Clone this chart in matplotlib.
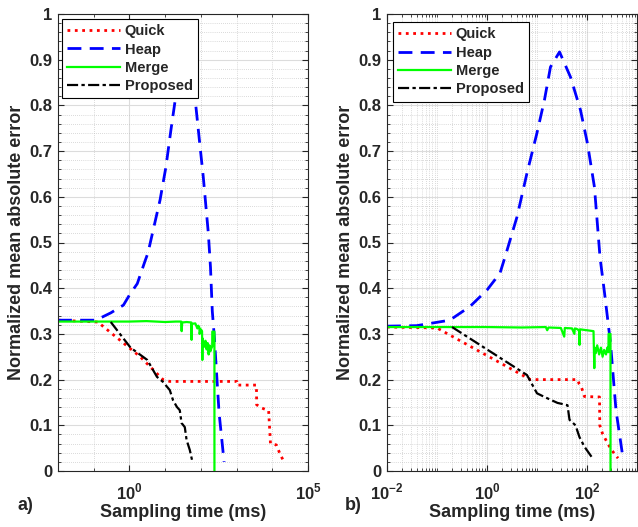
import numpy as np
import matplotlib
matplotlib.use("Agg")
import matplotlib.pyplot as plt
from matplotlib.ticker import FixedLocator, NullFormatter, LogLocator

plt.rcParams['font.family'] = ['Liberation Sans', 'DejaVu Sans']
plt.rcParams['font.weight'] = 'bold'
plt.rcParams['mathtext.fontset'] = 'custom'
plt.rcParams['mathtext.rm'] = 'Liberation Sans:bold'
plt.rcParams['mathtext.bf'] = 'Liberation Sans:bold'

# ---- panel a) data (sampling time in ms, normalized MAE) ----
quick_a_t = [0.01, 0.13, 2.0, 8.7, 13.5, 1020, 1030, 3600, 3650, 5000, 7900, 8900,
             13000, 15000, 17000, 22000]
quick_a_y = [0.33, 0.326, 0.25, 0.2, 0.196, 0.196, 0.188, 0.188, 0.145, 0.138,
             0.132, 0.06, 0.057, 0.045, 0.035, 0.018]

heap_a_t = [0.01, 0.115, 0.30, 0.68, 1.0, 1.66, 2.75, 3.3, 7.2, 10.5, 14.5, 18.6,
            26, 35.5, 50, 71, 91, 117, 162, 186, 209, 240, 288, 324, 447]
heap_a_y = [0.33, 0.33, 0.346, 0.363, 0.385, 0.41, 0.46, 0.477, 0.593, 0.665,
            0.746, 0.805, 0.88, 0.905, 0.88, 0.805, 0.724, 0.643, 0.52, 0.446,
            0.35, 0.29, 0.19, 0.127, 0.02]

merge_a_t = [0.01, 1, 3, 10, 20, 28, 29, 30, 40, 54, 55, 56, 70, 80, 85, 91, 92,
             100, 108, 110, 112, 125, 135, 145, 155, 165, 175, 185, 200, 208, 209,
             238, 240, 240]
merge_a_y = [0.327, 0.327, 0.328, 0.326, 0.327, 0.327, 0.306, 0.325, 0.326,
             0.325, 0.287, 0.322, 0.323, 0.312, 0.318, 0.314, 0.3, 0.31, 0.306,
             0.243, 0.29, 0.272, 0.285, 0.266, 0.28, 0.255, 0.275, 0.262, 0.27,
             0.272, 0.305, 0.305, 0.305, 0.0]

prop_a_t = [0.30, 1.07, 3.16, 5.9, 8.7, 13.5, 16.6, 21.4, 25.7, 28.8, 35.5, 39.8,
            49, 58.9]
prop_a_y = [0.326, 0.27, 0.243, 0.206, 0.195, 0.177, 0.155, 0.14, 0.133, 0.105,
            0.096, 0.068, 0.046, 0.018]

# ---- panel b) data ----
quick_b_t = [0.01, 0.1, 7.4, 65, 70, 78, 85, 89, 178, 180, 204, 260, 310, 417]
quick_b_y = [0.315, 0.313, 0.2, 0.2, 0.19, 0.182, 0.17, 0.163, 0.162, 0.1,
             0.082, 0.06, 0.046, 0.028]

heap_b_t = [0.01, 0.039, 0.18, 0.457, 1.0, 1.82, 2.29, 3.98, 6.31, 10, 14.1, 18.6,
            28.2, 46.8, 74, 102, 141, 182, 224, 295, 380, 525]
heap_b_y = [0.317, 0.318, 0.33, 0.36, 0.396, 0.433, 0.468, 0.556, 0.652, 0.74,
            0.812, 0.884, 0.917, 0.862, 0.79, 0.717, 0.621, 0.468, 0.39, 0.28,
            0.133, 0.028]

merge_b_t = [0.01, 1, 5, 15, 16, 17, 30, 35, 36, 50, 56, 57, 65, 70, 71, 72, 100,
             135, 140, 142, 150, 160, 175, 190, 205, 220, 240, 255, 268, 270,
             293, 295, 295]
merge_b_y = [0.315, 0.315, 0.314, 0.315, 0.308, 0.314, 0.313, 0.294, 0.313,
             0.312, 0.3, 0.312, 0.31, 0.306, 0.276, 0.31, 0.308, 0.306, 0.225,
             0.27, 0.258, 0.275, 0.255, 0.27, 0.25, 0.265, 0.255, 0.27, 0.26,
             0.3, 0.3, 0.3, 0.0]

prop_b_t = [0.2, 6.3, 10, 14.1, 25.7, 40.7, 44.7, 58.9, 70.8, 89.1, 129]
prop_b_y = [0.315, 0.21, 0.17, 0.162, 0.149, 0.144, 0.112, 0.1, 0.074, 0.053,
            0.028]

labels = ["Quick", "Heap", "Merge", "Proposed"]

fig = plt.figure(figsize=(6.38, 5.27), dpi=100)
ax_a = fig.add_axes([58 / 638, 1 - 471 / 527, 250 / 638, 457 / 527])
ax_b = fig.add_axes([387 / 638, 1 - 471 / 527, 250 / 638, 457 / 527])


def draw(ax, q, h, m, p):
    ax.plot(q[0], q[1], color='red', ls=':', lw=2, label=labels[0])
    ax.plot(h[0], h[1], color='blue', ls=(0, (5, 3)), lw=2, label=labels[1])
    ax.plot(m[0], m[1], color='#00ff00', ls='-', lw=1.6, label=labels[2])
    ax.plot(p[0], p[1], color='black', ls=(0, (5, 1.5, 1.5, 1.5)), lw=1.6,
            label=labels[3])
    ax.set_xscale('log')
    ax.set_ylim(0, 1)
    ax.set_yticks(np.arange(0, 1.01, 0.1))
    ax.set_yticklabels(['0', '0.1', '0.2', '0.3', '0.4', '0.5', '0.6', '0.7',
                        '0.8', '0.9', '1'])
    ax.yaxis.set_minor_locator(FixedLocator(np.arange(0, 1.001, 0.02)))
    ax.grid(True, which='major', color='#dcdcdc', lw=0.8, ls='-')
    ax.grid(True, which='minor', color='#b8b8b8', lw=0.5, ls=(0, (1, 2)))
    ax.set_axisbelow(True)
    ax.tick_params(which='both', direction='in', top=True, right=True,
                   labelsize=12, color='#262626', labelcolor='#262626')
    ax.tick_params(axis='y', pad=4)
    ax.tick_params(axis='x', pad=8)
    ax.tick_params(which='major', length=4)
    ax.tick_params(which='minor', length=2)
    for s in ax.spines.values():
        s.set_color('#262626')
        s.set_linewidth(0.8)
    ax.set_xlabel('Sampling time (ms)', fontsize=13, fontweight='bold',
                  color='#262626', labelpad=1)
    ax.set_ylabel('Normalized mean absolute error', fontsize=13,
                  fontweight='bold', color='#262626', labelpad=3)


draw(ax_a, (quick_a_t, quick_a_y), (heap_a_t, heap_a_y),
     (merge_a_t, merge_a_y), (prop_a_t, prop_a_y))
ax_a.set_xlim(1e-2, 1e5)
ax_a.xaxis.set_major_locator(FixedLocator([1, 1e5]))
ax_a.set_xticklabels([r'$10^{0}$', r'$10^{5}$'])
ax_a.xaxis.set_minor_locator(FixedLocator([10.0 ** k for k in range(-2, 6)]))
ax_a.xaxis.set_minor_formatter(NullFormatter())

draw(ax_b, (quick_b_t, quick_b_y), (heap_b_t, heap_b_y),
     (merge_b_t, merge_b_y), (prop_b_t, prop_b_y))
ax_b.set_xlim(1e-2, 1e3)
ax_b.xaxis.set_major_locator(FixedLocator([1e-2, 1, 1e2]))
ax_b.set_xticklabels([r'$10^{-2}$', r'$10^{0}$', r'$10^{2}$'])
ax_b.xaxis.set_minor_locator(LogLocator(base=10, subs=np.arange(1, 10),
                                        numticks=50))
ax_b.xaxis.set_minor_formatter(NullFormatter())

for ax, anchor in ((ax_a, (0.016, 0.989)), (ax_b, (0.024, 0.982))):
    leg = ax.legend(loc='upper left', bbox_to_anchor=anchor, borderaxespad=0,
                    fancybox=False, edgecolor='black', framealpha=1,
                    prop={'weight': 'bold', 'size': 10.5}, handlelength=3.6,
                    labelspacing=0.3, handletextpad=0.35, borderpad=0.35)
    leg.get_frame().set_linewidth(0.8)
    for t in leg.get_texts():
        t.set_color('#262626')

fig.text(18 / 638, 1 - 505 / 527, 'a)', fontsize=13, fontweight='bold',
         va='center', ha='left', color='#262626')
fig.text(345 / 638, 1 - 505 / 527, 'b)', fontsize=13, fontweight='bold',
         va='center', ha='left', color='#262626')

fig.savefig('out.png', dpi=100)
